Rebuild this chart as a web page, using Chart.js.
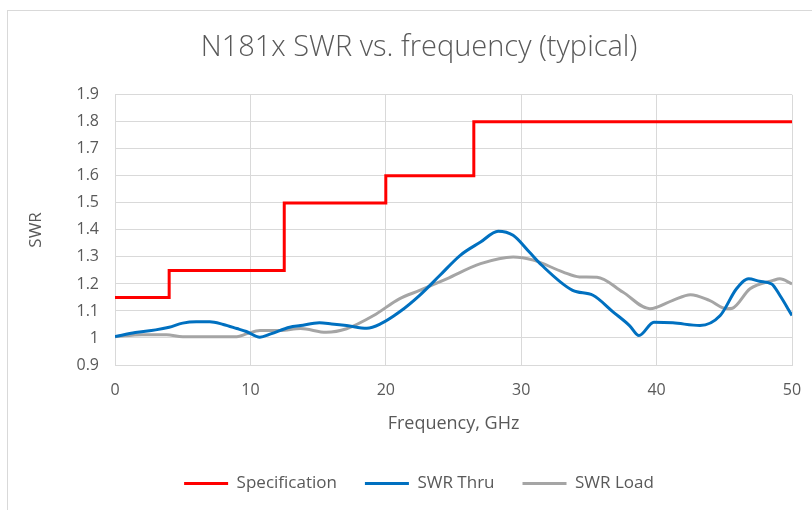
<!DOCTYPE html>
<html>
<head>
<meta charset="utf-8">
<script src="https://cdn.jsdelivr.net/npm/chart.js@4.4.1/dist/chart.umd.min.js"></script>
<style>
  html, body { margin: 0; padding: 0; background: #fff; }
  #wrap { position: relative; width: 812px; height: 510px; }
  #frame { position: absolute; left: 7px; top: 10px; right: -10px; bottom: -10px;
           border-left: 1px solid #D9D9D9; border-top: 1px solid #D9D9D9; }
  #swrChart { position: absolute; left: 0; top: 0; }
</style>
</head>
<body>
<div id="wrap">
  <div id="frame"></div>
  <canvas id="swrChart" width="812" height="510"></canvas>
</div>
<script>
// Specification (step limit)
const specFreq = [0, 4, 4, 12.5, 12.5, 20, 20, 26.5, 26.5, 50];
const specSWR  = [1.15, 1.15, 1.25, 1.25, 1.5, 1.5, 1.6, 1.6, 1.8, 1.8];

// SWR Thru (measured)
const thruFreq = [0, 1.5, 3, 4, 5, 6, 7, 8, 9, 9.7, 10.7, 11.5, 12.9, 13.7, 15.1, 16, 17.1, 18.6, 19.6,
                  21, 22.5, 24, 25.5, 27, 28.3, 29.4, 30.6, 31.5, 33.8, 35.3, 36.8, 38, 38.7, 39.8,
                  41.2, 43.2, 44.7, 45.9, 46.8, 47.6, 48.5, 49.1, 50];
const thruSWR  = [1.005, 1.02, 1.03, 1.04, 1.055, 1.06, 1.06, 1.05, 1.035, 1.024, 1.003, 1.015, 1.04, 1.046,
                  1.056, 1.052, 1.046, 1.036, 1.052, 1.096, 1.158, 1.232, 1.306, 1.355, 1.395, 1.38, 1.318,
                  1.27, 1.176, 1.158, 1.096, 1.046, 1.009, 1.058, 1.056, 1.046, 1.083, 1.182, 1.219, 1.21,
                  1.2, 1.158, 1.083];

// SWR Load (measured)
const loadFreq = [0, 2, 3.8, 5, 7, 9, 9.7, 10.7, 12.2, 13.7, 15.6, 17.1, 19.1, 21, 22.5, 24.5, 27, 29.4,
                  30.9, 33.1, 34.3, 35.6, 37.5, 39.5, 41.2, 42.5, 43.9, 45.2, 45.6, 46.9, 48.6, 49.1, 50];
const loadSWR  = [1.005, 1.012, 1.012, 1.005, 1.005, 1.005, 1.015, 1.028, 1.028, 1.035, 1.021, 1.034, 1.083,
                  1.145, 1.176, 1.219, 1.275, 1.30, 1.288, 1.244, 1.226, 1.225, 1.17, 1.108, 1.139, 1.16,
                  1.139, 1.108, 1.11, 1.182, 1.213, 1.219, 1.20];

// Axis tick labels
const yTickLabels = ['0.9', '1', '1.1', '1.2', '1.3', '1.4', '1.5', '1.6', '1.7', '1.8', '1.9'];
const xTickLabels = ['0', '10', '20', '30', '40', '50'];

function toPoints(xs, ys) {
    return xs.map((x, i) => ({ x: x, y: ys[i] }));
}

const textColor = '#595959';
const gridColor = '#D9D9D9';
const baseFont = "'Open Sans', 'Noto Sans', sans-serif";

new Chart(document.getElementById('swrChart'), {
    type: 'line',
    data: {
        datasets: [
            {
                label: 'Specification',
                data: toPoints(specFreq, specSWR),
                borderColor: '#FF0000',
                backgroundColor: '#FF0000',
                borderWidth: 3,
                pointRadius: 0,
                tension: 0
            },
            {
                label: 'SWR Thru',
                data: toPoints(thruFreq, thruSWR),
                borderColor: '#0070C0',
                backgroundColor: '#0070C0',
                borderWidth: 3,
                pointRadius: 0,
                cubicInterpolationMode: 'monotone'
            },
            {
                label: 'SWR Load',
                data: toPoints(loadFreq, loadSWR),
                borderColor: '#A5A5A5',
                backgroundColor: '#A5A5A5',
                borderWidth: 3,
                pointRadius: 0,
                cubicInterpolationMode: 'monotone'
            }
        ]
    },
    options: {
        responsive: false,
        animation: false,
        // wide left padding shifts the title and legend centre to the right, like the original
        layout: { padding: { left: 46, right: 20, top: 0, bottom: 8 } },
        plugins: {
            title: {
                display: true,
                text: 'N181x SWR vs. frequency (typical)',
                color: textColor,
                font: { family: baseFont, size: 29, weight: '300' },
                padding: { top: 30, bottom: 30 }
            },
            legend: {
                position: 'bottom',
                labels: {
                    color: textColor,
                    font: { family: baseFont, size: 17 },
                    boxWidth: 44,
                    boxHeight: 3,
                    padding: 28,
                    generateLabels: function(chart) {
                        const items = Chart.defaults.plugins.legend.labels.generateLabels(chart);
                        items.forEach(it => { it.lineWidth = 0; });
                        return items;
                    }
                }
            },
            tooltip: { enabled: false }
        },
        scales: {
            x: {
                type: 'linear',
                min: 0,
                max: 50,
                ticks: {
                    stepSize: 10,
                    color: textColor,
                    font: { family: baseFont, size: 16 },
                    padding: 0,
                    maxRotation: 0,
                    callback: function(value) {
                        const i = Math.round(value / 10);
                        return xTickLabels[i] !== undefined ? xTickLabels[i] : '';
                    }
                },
                // invisible tick marks give the label gap without widening the right padding
                grid: { color: gridColor, drawTicks: true, tickLength: 16, tickColor: 'rgba(0,0,0,0)' },
                border: { color: gridColor },
                title: {
                    display: true,
                    text: 'Frequency, GHz',
                    color: textColor,
                    font: { family: baseFont, size: 18 },
                    padding: { top: 8, bottom: 12 }
                },
                afterFit: function(scale) { scale.height = 82; }
            },
            y: {
                min: 0.9,
                max: 1.9,
                ticks: {
                    stepSize: 0.1,
                    color: textColor,
                    font: { family: baseFont, size: 16 },
                    padding: 16,
                    callback: function(value) {
                        const i = Math.round((value - 0.9) * 10);
                        return yTickLabels[i] !== undefined ? yTickLabels[i] : '';
                    }
                },
                grid: { color: gridColor, drawTicks: false },
                border: { color: gridColor },
                title: {
                    display: true,
                    text: 'SWR',
                    color: textColor,
                    font: { family: baseFont, size: 17 },
                    padding: { top: -20, bottom: 4 }
                },
                afterFit: function(scale) { scale.width = 69; }
            }
        }
    }
});
</script>
</body>
</html>
